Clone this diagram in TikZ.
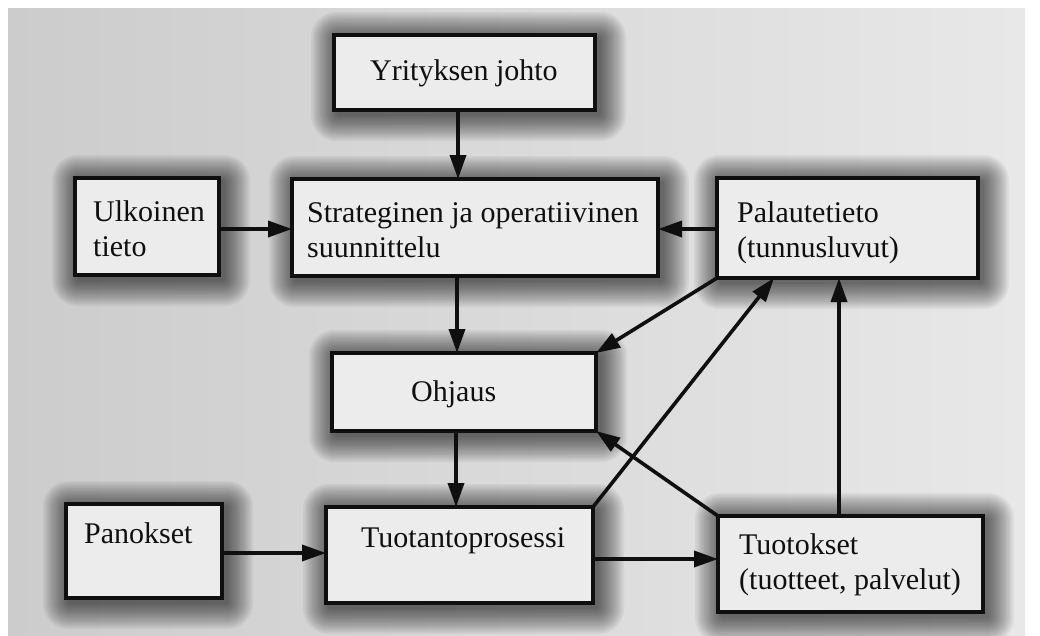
\documentclass[tikz,border=0pt]{standalone}
\usepackage{fontspec}
\setmainfont{Liberation Serif}
\usetikzlibrary{arrows.meta}
\pgfdeclarelayer{bgback}
\pgfdeclarelayer{bgshadow}
\pgfsetlayers{bgback,bgshadow,main}
\definecolor{paperL}{gray}{0.80}
\definecolor{paperR}{gray}{0.91}
\definecolor{boxfill}{gray}{0.925}
\definecolor{ink}{gray}{0.06}
\begin{document}
\begin{tikzpicture}[x=1pt,y=-1pt,
  box/.style={draw=ink, line width=3.3pt, fill=boxfill, rectangle, inner sep=0pt, outer sep=0pt},
  txt/.style={anchor=base west, inner sep=0pt, font=\fontsize{30}{35}\selectfont, text=ink, align=left},
  arr/.style={draw=ink, line width=3.6pt, -{Triangle[length=24pt,width=16pt]}}]
\useasboundingbox (0,0) rectangle (1040,635);
\begin{pgfonlayer}{bgback}
  \fill[white] (0,0) rectangle (1040,635);
  \shade[left color=paperL, right color=paperR] (8,8) rectangle (1025,635);
\end{pgfonlayer}
% boxes
\node[box, minimum width=261pt, minimum height=75pt] (johto) at (464.5,72.5) {};
\node[box, minimum width=144pt, minimum height=97pt] (ulk) at (147,226.5) {};
\node[box, minimum width=366pt, minimum height=97pt] (strat) at (475,227.5) {};
\node[box, minimum width=261pt, minimum height=100pt] (pal) at (847.5,228) {};
\node[box, minimum width=264pt, minimum height=78pt] (ohj) at (464,392) {};
\node[box, minimum width=156pt, minimum height=94pt] (panok) at (144,551) {};
\node[box, minimum width=267pt, minimum height=96pt] (tuot) at (459.5,555) {};
\node[box, minimum width=265pt, minimum height=96pt] (tuotok) at (850.5,564) {};
% texts (multi-line nodes: base = last line)
\node[txt] (tjohto) at (370,80) {Yrityksen johto};
\node[txt] (tulk) at (93,256) {Ulkoinen\\tieto};
\node[txt] (tstrat) at (307,257) {Strateginen ja operatiivinen\\suunnittelu};
\node[txt] (tpal) at (737,257) {Palautetieto\\(tunnusluvut)};
\node[txt] (tohj) at (411,401) {Ohjaus};
\node[txt] (tpanok) at (84,543) {Panokset};
\node[txt] (ttuot) at (361,547) {Tuotantoprosessi};
\node[txt] (ttuotok) at (739,589) {Tuotokset\\(tuotteet, palvelut)};
% shadows
\begin{pgfonlayer}{bgshadow}
\foreach \n in {johto,ulk,strat,pal,ohj,panok,tuot,tuotok}{
  \foreach \i [evaluate=\i as \r using \i*1.7, evaluate=\i as \s using \i*1.8] in {1,...,15}{
    \fill[black, opacity=0.048, rounded corners=\r pt]
      ([shift={(-\s+4,-\s+4)}]\n.north west) rectangle ([shift={(\s+4,\s+4)}]\n.south east);
  }
}
\end{pgfonlayer}
% connectors
\draw[arr] (johto.south -| 458,0) -- (strat.north -| 458,0);
\draw[arr] (ulk.east |- 0,229) -- (strat.west |- 0,229);
\draw[arr] (pal.west |- 0,229) -- (strat.east |- 0,229);
\draw[arr] (strat.south -| 457,0) -- (ohj.north -| 457,0);
\draw[arr] (ohj.south -| 456,0) -- (tuot.north -| 456,0);
\draw[arr] (panok.east |- 0,553) -- (tuot.west |- 0,553);
\draw[arr] (tuot.east |- 0,559) -- (tuotok.west |- 0,559);
\draw[arr] (pal.south west) -- (ohj.north east);
\draw[arr] (tuot.north east) -- (pal.south -| 774,0);
\draw[arr] (tuotok.north west) -- (ohj.south east);
\draw[arr] (tuotok.north -| 839,0) -- (pal.south -| 839,0);
\end{tikzpicture}
\end{document}
